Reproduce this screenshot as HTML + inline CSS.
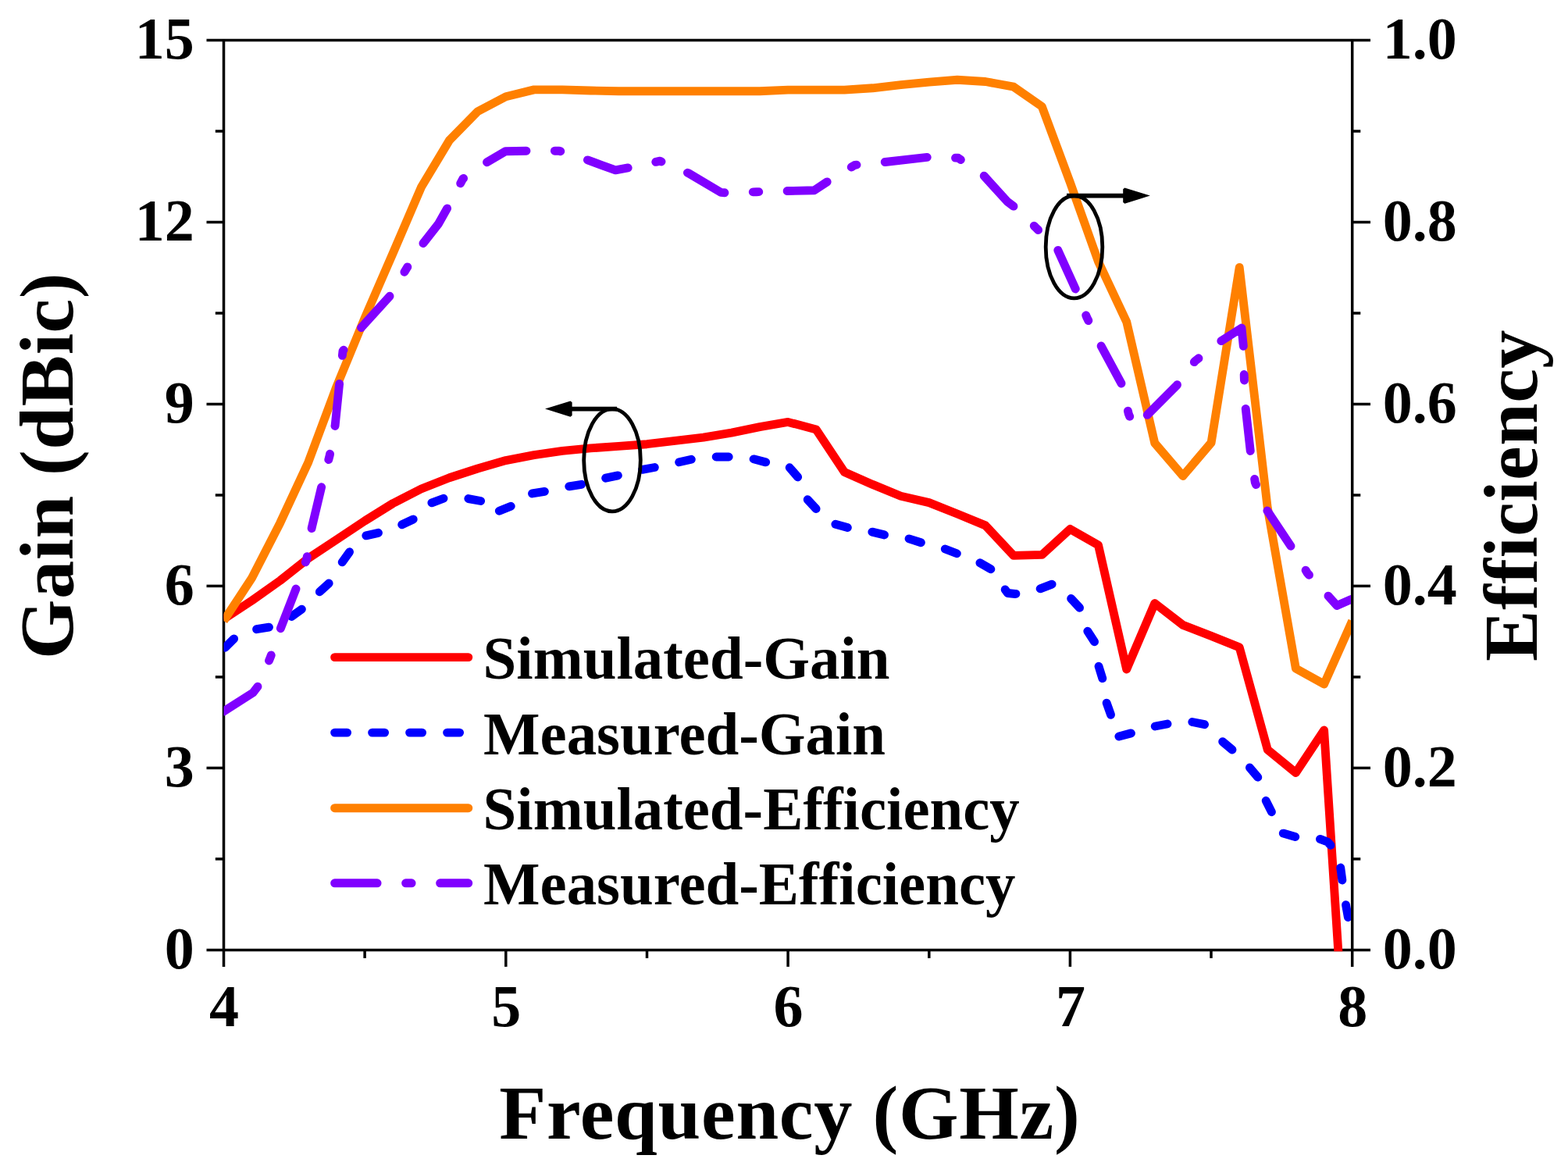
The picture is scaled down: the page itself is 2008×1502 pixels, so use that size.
<!DOCTYPE html>
<html lang="en">
<head>
<meta charset="utf-8">
<title>Gain and Efficiency vs Frequency</title>
<style>
html,body{margin:0;padding:0;background:#fff;}
body{width:2008px;height:1502px;overflow:hidden;}
svg{display:block;}
text{font-family:"Liberation Serif","DejaVu Serif",serif;font-weight:bold;fill:#000;}
.ax{stroke:#000;stroke-width:3.5;fill:none;stroke-linecap:butt;}
.cv{fill:none;stroke-width:10.9;stroke-linejoin:round;stroke-linecap:round;}
.sol{stroke-linejoin:round;stroke-linecap:butt;}
.an{fill:none;stroke:#000;}
</style>
</head>
<body>
<svg width="2008" height="1502" viewBox="0 0 2008 1502">
<rect x="0" y="0" width="2008" height="1502" fill="#fff"/>
<defs><clipPath id="plot"><rect x="286.50" y="51.50" width="1443.45" height="1166.65"/></clipPath></defs>
<g class="ax">
<line x1="264.5" y1="51.5" x2="1755.0" y2="51.5"/>
<line x1="264.5" y1="1216.4" x2="1755.0" y2="1216.4"/>
</g>
<g class="ax">
<line x1="286.5" y1="51.5" x2="286.5" y2="1237.9"/>
<line x1="1731.7" y1="51.5" x2="1731.7" y2="1237.9"/>
<line x1="264.5" y1="983.4" x2="286.5" y2="983.4"/>
<line x1="1731.7" y1="983.4" x2="1755.0" y2="983.4"/>
<line x1="264.5" y1="750.4" x2="286.5" y2="750.4"/>
<line x1="1731.7" y1="750.4" x2="1755.0" y2="750.4"/>
<line x1="264.5" y1="517.5" x2="286.5" y2="517.5"/>
<line x1="1731.7" y1="517.5" x2="1755.0" y2="517.5"/>
<line x1="264.5" y1="284.5" x2="286.5" y2="284.5"/>
<line x1="1731.7" y1="284.5" x2="1755.0" y2="284.5"/>
<line x1="275.8" y1="1099.9" x2="286.5" y2="1099.9"/>
<line x1="1731.7" y1="1099.9" x2="1742.3" y2="1099.9"/>
<line x1="275.8" y1="866.9" x2="286.5" y2="866.9"/>
<line x1="1731.7" y1="866.9" x2="1742.3" y2="866.9"/>
<line x1="275.8" y1="634.0" x2="286.5" y2="634.0"/>
<line x1="1731.7" y1="634.0" x2="1742.3" y2="634.0"/>
<line x1="275.8" y1="401.0" x2="286.5" y2="401.0"/>
<line x1="1731.7" y1="401.0" x2="1742.3" y2="401.0"/>
<line x1="275.8" y1="168.0" x2="286.5" y2="168.0"/>
<line x1="1731.7" y1="168.0" x2="1742.3" y2="168.0"/>
<line x1="647.8" y1="1216.4" x2="647.8" y2="1237.9"/>
<line x1="1009.1" y1="1216.4" x2="1009.1" y2="1237.9"/>
<line x1="1370.4" y1="1216.4" x2="1370.4" y2="1237.9"/>
<line x1="467.1" y1="1216.4" x2="467.1" y2="1226.9"/>
<line x1="828.5" y1="1216.4" x2="828.5" y2="1226.9"/>
<line x1="1189.8" y1="1216.4" x2="1189.8" y2="1226.9"/>
<line x1="1551.0" y1="1216.4" x2="1551.0" y2="1226.9"/>
</g>
<g clip-path="url(#plot)">
<polyline class="cv sol" stroke="#ff0000" points="286.5,792.8 322.6,769.0 358.8,743.4 394.9,714.9 431.0,691.0 467.1,667.0 503.3,644.5 539.4,626.0 575.5,611.8 611.7,600.0 647.8,589.6 683.9,582.6 720.1,577.4 756.2,573.9 792.3,571.4 828.5,568.7 864.6,564.4 900.7,560.1 936.8,554.1 973.0,546.7 1009.1,540.4 1045.2,550.0 1081.4,604.4 1117.5,620.4 1153.6,635.3 1189.8,643.6 1225.9,658.0 1262.0,672.9 1298.1,711.4 1334.3,710.4 1370.4,677.4 1406.5,698.0 1442.7,857.0 1478.8,772.5 1514.9,800.4 1551.1,814.4 1587.2,828.9 1623.3,960.0 1659.4,989.5 1695.6,935.0 1713.7,1216.4 1717.2,1270.0"/>
<polyline class="cv" stroke="#0000ff" stroke-dasharray="16.06 32.06" stroke-dashoffset="-2.5" points="286.5,831.0 302.0,815.5 312.0,809.5 324.0,806.5 347.4,802.6 369.4,792.2 387.6,779.3 405.8,761.1 421.4,746.8 435.7,723.4 448.6,705.3 459.0,688.0 486.3,681.9 509.7,674.1 529.2,665.0 548.6,645.5 569.4,637.7 595.4,637.7 616.1,641.6 630.0,658.0 657.7,646.8 678.5,632.5 701.8,628.6 725.2,623.5 748.6,619.6 771.3,613.1 796.0,607.9 821.9,601.4 844.0,597.5 867.4,592.3 890.7,587.1 914.1,585.0 938.8,585.0 962.2,587.1 985.5,593.1 1008.9,596.2 1025.8,615.7 1032.3,637.7 1049.1,655.9 1066.0,670.2 1089.4,676.7 1112.8,680.1 1136.1,685.8 1159.5,688.4 1184.2,696.2 1206.2,701.4 1229.6,710.4 1250.4,718.2 1270.0,729.5 1285.0,752.0 1290.5,759.5 1300.0,760.5 1312.0,759.0 1324.0,757.0 1347.1,748.1 1355.0,749.0 1367.9,762.4 1383.5,779.3 1390.0,803.9 1401.7,822.0 1405.6,848.6 1412.0,869.3 1415.9,896.6 1422.4,914.8 1426.0,938.0 1431.5,943.3 1451.0,938.2 1477.0,930.4 1497.7,926.5 1523.7,923.9 1543.2,927.8 1562.7,947.2 1578.2,960.2 1597.7,979.7 1612.0,996.6 1619.8,1022.5 1628.9,1040.7 1638.0,1063.0 1641.9,1066.7 1660.0,1071.9 1687.3,1073.2 1700.0,1078.0 1706.5,1084.9 1715.5,1102.0 1719.0,1128.0 1722.0,1150.0 1727.0,1178.0 1733.0,1205.0"/>
<polyline class="cv sol" stroke="#ff8000" points="286.5,795.0 322.6,740.1 358.8,669.4 394.9,591.7 431.0,495.0 467.1,407.2 503.3,324.0 539.4,239.8 575.5,179.6 611.7,142.7 647.8,123.7 683.9,114.9 720.1,114.9 756.2,116.0 792.3,116.7 828.5,116.7 864.6,116.7 900.7,116.7 936.8,116.7 973.0,116.7 1009.1,115.1 1045.2,115.1 1081.4,115.1 1117.5,112.8 1153.6,108.7 1189.8,105.2 1225.9,102.2 1262.0,104.5 1298.1,111.2 1334.3,136.4 1370.4,233.7 1406.5,335.0 1442.7,412.1 1478.8,567.4 1514.9,609.5 1551.1,566.9 1587.2,342.5 1623.3,650.8 1659.4,856.0 1695.6,876.1 1731.7,795.0"/>
<polyline class="cv" stroke="#8000ff" stroke-dasharray="54.35 36.35 7.5 36.4" stroke-dashoffset="0" points="286.5,911.0 324.0,887.0 332.0,876.5 346.6,840.8 359.1,805.2 379.8,752.0 392.8,715.6 399.3,675.4 412.3,620.9 422.2,583.2 429.2,544.3 434.9,488.4 439.0,449.5 462.9,419.1 500.6,377.6 521.4,342.5 542.1,311.4 561.5,286.7 574.6,263.3 592.8,229.0 623.9,207.5 647.3,193.7 678.5,193.2 716.1,193.2 752.5,204.9 770.0,211.4 788.2,217.9 809.0,214.0 845.3,206.2 881.7,221.8 923.2,246.4 931.0,247.0 968.7,245.7 1006.3,244.6 1042.7,243.8 1062.1,230.9 1094.6,211.4 1133.5,207.5 1190.7,201.0 1227.0,202.3 1258.2,223.1 1290.0,258.1 1300.4,266.0 1326.4,291.4 1353.6,317.8 1377.8,371.1 1392.0,406.9 1409.4,441.7 1436.7,492.3 1445.3,530.0 1452.0,546.0 1466.6,533.9 1506.8,493.6 1530.2,462.5 1560.0,439.1 1590.0,420.0 1592.5,445.0 1593.3,483.8 1595.1,522.2 1601.6,580.6 1607.3,617.7 1622.4,653.3 1653.5,700.0 1674.3,733.8 1700.3,762.4 1712.0,775.4 1730.2,767.6 1740.0,763.0"/>
</g>
<g font-size="76">
<text x="248.8" y="1239.6" text-anchor="end">0</text>
<text x="248.8" y="1006.6" text-anchor="end">3</text>
<text x="248.8" y="773.6" text-anchor="end">6</text>
<text x="248.8" y="540.7" text-anchor="end">9</text>
<text x="248.8" y="307.7" text-anchor="end">12</text>
<text x="248.8" y="74.7" text-anchor="end">15</text>
<text x="1770.8" y="1240.0" text-anchor="start">0.0</text>
<text x="1770.8" y="1007.0" text-anchor="start">0.2</text>
<text x="1770.8" y="774.0" text-anchor="start">0.4</text>
<text x="1770.8" y="541.1" text-anchor="start">0.6</text>
<text x="1770.8" y="308.1" text-anchor="start">0.8</text>
<text x="1770.8" y="75.1" text-anchor="start">1.0</text>
<text x="287.0" y="1314" text-anchor="middle">4</text>
<text x="648.3" y="1314" text-anchor="middle">5</text>
<text x="1009.6" y="1314" text-anchor="middle">6</text>
<text x="1370.9" y="1314" text-anchor="middle">7</text>
<text x="1732.2" y="1314" text-anchor="middle">8</text>
</g>
<text x="639.2" y="1457.8" font-size="98.4" textLength="743.5" lengthAdjust="spacing">Frequency (GHz)</text>
<text transform="translate(93.3,844) rotate(-90)" font-size="98.4" textLength="494.5" lengthAdjust="spacing">Gain (dBic)</text>
<text transform="translate(1967.9,847) rotate(-90)" font-size="98.4" textLength="424.5" lengthAdjust="spacing">Efficiency</text>
<line class="cv" x1="428.6" y1="841.6" x2="599.8" y2="841.6" stroke="#ff0000"/>
<text x="618.6" y="868.6" font-size="77.5" textLength="520.9" lengthAdjust="spacingAndGlyphs">Simulated-Gain</text>
<line class="cv" x1="428.6" y1="938.1" x2="599.8" y2="938.1" stroke="#0000ff" stroke-dasharray="16 32"/>
<text x="619.0" y="965.6" font-size="77.5" textLength="515.1" lengthAdjust="spacingAndGlyphs">Measured-Gain</text>
<line class="cv" x1="428.6" y1="1034.7" x2="599.8" y2="1034.7" stroke="#ff8000"/>
<text x="618.6" y="1062.0" font-size="77.5" textLength="687.2" lengthAdjust="spacingAndGlyphs">Simulated-Efficiency</text>
<line class="cv" x1="428.6" y1="1130.8" x2="599.8" y2="1130.8" stroke="#8000ff" stroke-dasharray="54.5 36.5 7.5 36.5"/>
<text x="619.0" y="1158.0" font-size="77.5" textLength="681.5" lengthAdjust="spacingAndGlyphs">Measured-Efficiency</text>
<ellipse class="an" cx="784" cy="589.2" rx="36.3" ry="65.6" stroke-width="4.8"/>
<ellipse class="an" cx="1375.5" cy="316.2" rx="36.3" ry="65.6" stroke-width="4.8"/>
<line class="an" x1="790" y1="523.6" x2="731" y2="523.6" stroke-width="5.6"/>
<line class="an" x1="1366" y1="250.6" x2="1440" y2="250.6" stroke-width="5.6"/>
<polygon points="698,523.6 730.5,513.4 732.6,515.2 732.6,532 730.5,533.8" fill="#000"/>
<polygon points="1472.8,250.6 1440.3,240.4 1438.2,242.2 1438.2,259 1440.3,260.8" fill="#000"/>
</svg>
</body>
</html>
